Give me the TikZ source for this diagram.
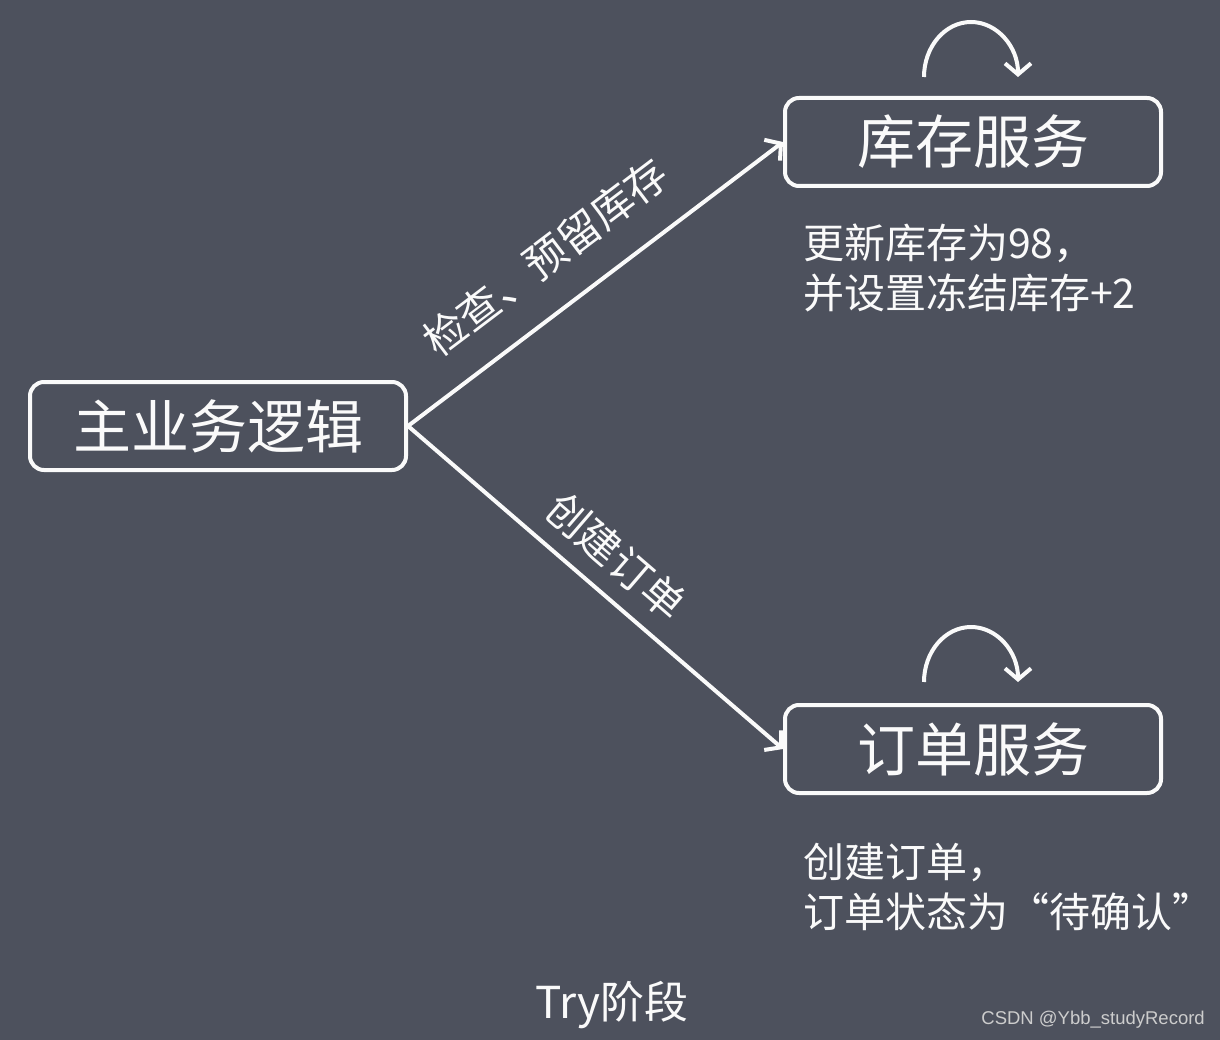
\documentclass[tikz,border=0pt]{standalone}
\usepackage{fontspec}
\setmainfont{Liberation Sans}
\newfontfamily\cjk{Noto Sans CJK SC}
\usetikzlibrary{arrows.meta}
\definecolor{bgc}{RGB}{77,81,93}
\definecolor{fg}{RGB}{250,250,250}
\definecolor{wm}{RGB}{205,205,205}
\tikzset{
  svcbox/.style={draw=fg, line width=4pt, rounded corners=14pt, minimum width=376pt, minimum height=88pt, inner sep=0pt, text=fg, font=\cjk\fontsize{58}{58}\selectfont},
  arr/.style={draw=fg, line width=4pt, -{Straight Barb[length=11pt,width=26pt,line width=4pt]}},
  lbl/.style={text=fg, font=\cjk\fontsize{42}{42}\selectfont, inner sep=0pt},
  desc/.style={text=fg, font=\cjk\fontsize{41}{50}\selectfont, align=left, inner sep=0pt, anchor=west},
}
\begin{document}
\begin{tikzpicture}[x=1pt,y=-1pt]
\fill[bgc] (0,0) rectangle (1220,1040);
\useasboundingbox (0,0) rectangle (1220,1040);

\node[svcbox] (main) at (218,426) {主业务逻辑};
\node[svcbox] (kc) at (973,142) {库存服务};
\node[svcbox] (dd) at (973,749) {订单服务};

\draw[arr] (main.east) -- (kc.west)
  node[lbl, pos=0.45, sloped, above=30pt] (l1) {检查、预留库存};
\draw[arr] (main.east) -- (dd.west)
  node[lbl, pos=0.49, sloped, above=16pt] (l2) {创建订单};

\coordinate (a1) at (924,77);
\draw[arr] (a1) arc[start angle=180, end angle=360, x radius=47, y radius=55];
\coordinate (a2) at (924,682);
\draw[arr] (a2) arc[start angle=180, end angle=360, x radius=47, y radius=55];

\node[desc] (d1) at (803,268) {更新库存为98，\\并设置冻结库存+2};
\node[desc] (d2) at (803,887) {创建订单，\\订单状态为“待确认”};

\node[text=fg, font=\cjk\fontsize{44}{44}\selectfont, inner sep=0pt] (try) at (612,1005) {Try阶段};
\node[text=wm, font=\fontsize{18.5}{18.5}\selectfont, inner sep=0pt, anchor=east] (wmk) at (1205,1020) {CSDN @Ybb\_studyRecord};
\end{tikzpicture}
\end{document}
